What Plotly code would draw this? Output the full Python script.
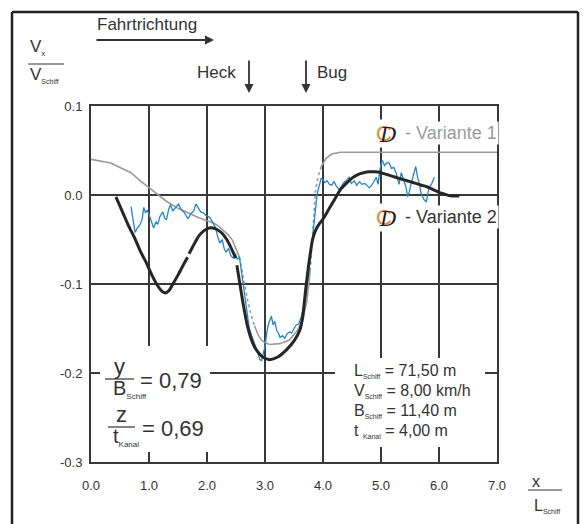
import plotly.graph_objects as go

# ---------------- data ----------------
# Variante 1 (gray, computed) - segments: solid / dotted
v1_a_x = [0.0, 0.2, 0.34, 0.5, 0.69, 0.85, 1.0, 1.15, 1.3, 1.5, 1.7, 1.84, 2.0, 2.1, 2.2, 2.29, 2.37, 2.44, 2.5, 2.56]
v1_a_y = [0.040, 0.038, 0.036, 0.031, 0.025, 0.016, 0.008, 0.000, -0.007, -0.015, -0.021, -0.025, -0.029, -0.031, -0.035, -0.040, -0.045, -0.051, -0.060, -0.070]
v1_b_x = [2.56, 2.60, 2.65, 2.70, 2.76, 2.82]
v1_b_y = [-0.070, -0.085, -0.100, -0.118, -0.135, -0.147]
v1_c_x = [2.82, 2.88, 2.94, 3.0, 3.08, 3.25, 3.42, 3.56, 3.65, 3.72, 3.78]
v1_c_y = [-0.147, -0.157, -0.163, -0.166, -0.168, -0.167, -0.163, -0.152, -0.140, -0.120, -0.085]
v1_d_x = [3.78, 3.82, 3.87, 3.92, 3.97]
v1_d_y = [-0.085, -0.045, 0.005, 0.022, 0.032]
v1_e_x = [3.97, 4.05, 4.15, 4.3, 5.0, 6.0, 7.0]
v1_e_y = [0.032, 0.041, 0.046, 0.048, 0.048, 0.048, 0.048]

# Messung (blue)
meas_x = [0.69, 0.72, 0.76, 0.80, 0.84, 0.88, 0.91, 0.94, 0.97, 1.00, 1.04, 1.08, 1.12, 1.15, 1.19, 1.24, 1.27,
          1.30, 1.34, 1.37, 1.41, 1.46, 1.51, 1.55, 1.60, 1.64, 1.67, 1.72, 1.77, 1.81, 1.84, 1.89, 1.94, 1.98,
          2.02, 2.06, 2.10, 2.15, 2.18, 2.22, 2.26, 2.30, 2.33, 2.37, 2.41, 2.45, 2.49, 2.52, 2.56, 2.59, 2.62,
          2.66, 2.70, 2.73, 2.77, 2.81, 2.85, 2.88, 2.91, 2.94, 2.97, 3.00, 3.03, 3.06, 3.09, 3.11, 3.14, 3.17,
          3.20, 3.23, 3.26, 3.30, 3.34, 3.38, 3.42, 3.46, 3.50, 3.54, 3.58, 3.62, 3.65, 3.68, 3.71, 3.73, 3.76,
          3.78, 3.80, 3.83, 3.86, 3.89, 3.91, 3.94, 3.97, 4.00, 4.03, 4.07, 4.11, 4.15, 4.19, 4.23, 4.28, 4.32,
          4.36, 4.41, 4.45, 4.49, 4.54, 4.58, 4.63, 4.67, 4.72, 4.77, 4.80, 4.84, 4.88, 4.92, 4.95, 4.98, 5.02,
          5.06, 5.10, 5.14, 5.18, 5.22, 5.26, 5.29, 5.31, 5.35, 5.39, 5.43, 5.46, 5.49, 5.52, 5.56, 5.60, 5.63,
          5.66, 5.69, 5.74, 5.78, 5.80, 5.83, 5.87, 5.92]
meas_y = [-0.013, -0.028, -0.042, -0.037, -0.034, -0.028, -0.014, -0.020, -0.017, -0.022, -0.030, -0.037, -0.030,
          -0.033, -0.024, -0.019, -0.026, -0.028, -0.016, -0.011, -0.018, -0.014, -0.010, -0.016, -0.019, -0.023,
          -0.027, -0.021, -0.018, -0.010, -0.013, -0.019, -0.020, -0.023, -0.024, -0.026, -0.031, -0.037, -0.046,
          -0.054, -0.050, -0.061, -0.064, -0.060, -0.068, -0.071, -0.066, -0.072, -0.070, -0.085, -0.099, -0.118,
          -0.138, -0.150, -0.158, -0.165, -0.172, -0.178, -0.185, -0.186, -0.178, -0.170, -0.155, -0.145, -0.140,
          -0.136, -0.146, -0.142, -0.152, -0.155, -0.160, -0.158, -0.161, -0.156, -0.154, -0.155, -0.150, -0.146,
          -0.145, -0.138, -0.130, -0.122, -0.112, -0.099, -0.085, -0.072, -0.060, -0.040, -0.020, -0.004, 0.004,
          0.012, 0.019, 0.017, 0.014, 0.016, 0.012, 0.011, 0.015, 0.010, 0.006, 0.010, 0.014, 0.017, 0.020, 0.013,
          0.016, 0.011, 0.015, 0.012, 0.013, 0.010, 0.008, 0.011, 0.015, 0.020, 0.012, 0.028, 0.039, 0.033, 0.036,
          0.036, 0.030, 0.031, 0.025, 0.018, 0.012, 0.025, 0.016, 0.009, -0.002, 0.004, 0.013, 0.022, 0.032, 0.020,
          0.013, 0.002, -0.005, -0.008, -0.002, 0.009, 0.012, 0.020]

# Variante 2 (black, computed); None = break in line
v2_x = [0.43, 0.55, 0.65, 0.75, 0.85, 0.96, 1.05, 1.15, 1.22, 1.28, 1.35, 1.42, 1.50, 1.58, 1.665, None,
        1.69, 1.78, 1.86, 1.95, 2.04, 2.10, 2.18, 2.26, 2.34, 2.42, 2.495, None,
        2.515, 2.58, 2.62, 2.70, 2.78, 2.85, 2.96, 3.08, 3.22, 3.37, 3.51, 3.60, 3.65, 3.70, 3.75, 3.78,
        3.82, 3.87, 3.93, 4.00, 4.10, 4.20, 4.30, 4.40, 4.50, 4.60, 4.70, 4.80, 4.90, 5.00, 5.10, 5.20,
        5.30, 5.40, 5.50, 5.60, 5.70, 5.80, 5.90, 6.00, 6.10, 6.20, 6.30, 6.35]
v2_y = [-0.002, -0.020, -0.035, -0.048, -0.063, -0.077, -0.090, -0.102, -0.108, -0.110, -0.107, -0.099, -0.090,
        -0.080, -0.070, None,
        -0.066, -0.055, -0.046, -0.040, -0.037, -0.037, -0.039, -0.043, -0.050, -0.060, -0.071, None,
        -0.079, -0.105, -0.121, -0.148, -0.165, -0.174, -0.182, -0.185, -0.182, -0.174, -0.163, -0.152, -0.137,
        -0.107, -0.080, -0.066, -0.050, -0.040, -0.033, -0.027, -0.016, -0.005, 0.006, 0.013, 0.019, 0.023, 0.025,
        0.026, 0.026, 0.025, 0.023, 0.021, 0.019, 0.017, 0.015, 0.013, 0.011, 0.009, 0.006, 0.003, 0.001, -0.001,
        -0.001, -0.001]

x_ticks = [0, 1, 2, 3, 4, 5, 6, 7]
x_ticktext = ["0.0", "1.0", "2.0", "3.0", "4.0", "5.0", "6.0", "7.0"]
y_ticks = [0.1, 0.0, -0.1, -0.2, -0.3]
y_ticktext = ["0.1", "0.0", "-0.1", "-0.2", "-0.3"]

# ---------------- figure ----------------
W, H = 586, 524
L, R, T, B = 91, 497, 106, 462
FONT = "Liberation Sans, Arial, sans-serif"
GRAY = "#9a9a9a"
BLUE = "#2386c8"
BLACK = "#262626"
GRID = "#383838"


def px(x):
    return (x - L) / (R - L)


def py(y):
    return (B - y) / (B - T)


fig = go.Figure()
for xs, ys, dash in [(v1_a_x, v1_a_y, "solid"), (v1_b_x, v1_b_y, "dot"), (v1_c_x, v1_c_y, "solid"),
                     (v1_d_x, v1_d_y, "dot"), (v1_e_x, v1_e_y, "solid")]:
    fig.add_trace(go.Scatter(x=xs, y=ys, mode="lines", line=dict(color=GRAY, width=1.6, dash=dash),
                             hoverinfo="skip"))
fig.add_trace(go.Scatter(x=meas_x, y=meas_y, mode="lines", line=dict(color=BLUE, width=1.3), hoverinfo="skip"))
fig.add_trace(go.Scatter(x=v2_x, y=v2_y, mode="lines", line=dict(color=BLACK, width=3, shape="spline",
                                                                   smoothing=0.6),
                         connectgaps=False, hoverinfo="skip"))

shapes = []
# white boxes interrupting the grid under the text blocks
shapes.append(dict(type="rect", xref="paper", yref="paper", x0=px(100), x1=px(210), y0=py(452), y1=py(346),
                   fillcolor="white", line=dict(width=0), layer="above"))
shapes.append(dict(type="rect", xref="paper", yref="paper", x0=px(335), x1=px(485), y0=py(447), y1=py(358),
                   fillcolor="white", line=dict(width=0), layer="above"))
# outer frame
shapes.append(dict(type="line", xref="paper", yref="paper", x0=px(12), x1=px(12), y0=py(12), y1=py(530),
                   line=dict(color="#222", width=2.5)))
shapes.append(dict(type="line", xref="paper", yref="paper", x0=px(12), x1=px(578), y0=py(12), y1=py(12),
                   line=dict(color="#222", width=2.5)))
shapes.append(dict(type="line", xref="paper", yref="paper", x0=px(578), x1=px(578), y0=py(12), y1=py(530),
                   line=dict(color="#222", width=2.5)))
# fraction bars
for x0, x1, yy in [(28, 64, 64), (105, 134, 379), (108, 135, 427), (528, 562, 490)]:
    shapes.append(dict(type="line", xref="paper", yref="paper", x0=px(x0), x1=px(x1), y0=py(yy), y1=py(yy),
                       line=dict(color="#333", width=1.2)))

ann = []


def text(x, y, s, size, color="#333", xanchor="center", yanchor="middle", family=FONT, bg=None):
    d = dict(xref="paper", yref="paper", x=px(x), y=py(y), text=s, showarrow=False, xanchor=xanchor,
             yanchor=yanchor, font=dict(family=family, size=size, color=color))
    if bg:
        d["bgcolor"] = bg
    ann.append(d)


def sub(s, size):
    return "<sub><span style='font-size:%dpx'>%s</span></sub>" % (size, s)


text(95, 24, "Fahrtrichtung", 17, xanchor="left")
ann.append(dict(xref="paper", yref="paper", x=px(214), y=py(40), ax=-119, ay=0, showarrow=True,
                arrowhead=2, arrowsize=1.0, arrowwidth=1.8, arrowcolor="#333", text=""))
text(28, 48, "V" + sub("x", 8), 17, xanchor="left")
text(28, 75, "V" + sub("Schiff", 7), 17, xanchor="left")
text(238, 72, "Heck", 17, xanchor="right")
ann.append(dict(xref="paper", yref="paper", x=px(249), y=py(93), ax=0, ay=-34, showarrow=True,
                arrowhead=2, arrowsize=1.0, arrowwidth=1.8, arrowcolor="#333", text=""))
text(315, 72, "Bug", 17, xanchor="left")
ann.append(dict(xref="paper", yref="paper", x=px(306), y=py(93), ax=0, ay=-34, showarrow=True,
                arrowhead=2, arrowsize=1.0, arrowwidth=1.8, arrowcolor="#333", text=""))

# legend entries
for yy, label, col in [(133, " - Variante 1", "#9a9a9a"), (217, " - Variante 2", "#333")]:
    text(398, yy, label, 18, color=col, xanchor="left", bg="white")
    text(384, yy, "C", 22, color="#e8873a", bg="white")
    text(388, yy + 2, "<i>D</i>", 21, color="#222", family="DejaVu Serif, serif")

# left text block
text(119, 366, "y", 22)
text(111, 389, "B" + sub("Schiff", 8), 20, xanchor="left")
text(138, 380, "= 0,79", 22, xanchor="left")
text(121, 414, "z", 22)
text(111, 437, "t" + sub("Kanal", 8), 20, xanchor="left")
text(140, 428, "= 0,69", 22, xanchor="left")

# right text block
rows = [("L", "Schiff", "= 71,50 m", 371), ("V", "Schiff", "= 8,00 km/h", 391),
        ("B", "Schiff", "= 11,40 m", 411), ("t ", "Kanal", "= 4,00 m", 431)]
for a, s, rest, yy in rows:
    text(352, yy, a + sub(s, 7) + " " + rest, 16, xanchor="left")

# x axis title
text(536, 481, "x", 16)
text(532, 506, "L" + sub("Schiff", 7), 16, xanchor="left")

fig.update_layout(
    width=W, height=H, margin=dict(l=L, r=W - R, t=T, b=H - B), autosize=False,
    paper_bgcolor="white", plot_bgcolor="white", showlegend=False,
    shapes=shapes, annotations=ann,
    font=dict(family=FONT, color="#333"),
    xaxis=dict(range=[0, 7], tickvals=x_ticks, ticktext=x_ticktext, showgrid=True, gridcolor=GRID,
               gridwidth=1.5, showline=True, mirror=True, linecolor=GRID, linewidth=2, zeroline=False,
               ticks="", tickfont=dict(size=13, color="#333"), ticklabelstandoff=10, fixedrange=True),
    yaxis=dict(range=[-0.3, 0.1], tickvals=y_ticks, ticktext=y_ticktext, showgrid=True, gridcolor=GRID,
               gridwidth=1.5, showline=True, mirror=True, linecolor=GRID, linewidth=2, zeroline=False,
               ticks="", tickfont=dict(size=13, color="#333"), ticklabelstandoff=4, fixedrange=True),
)

fig.write_html("out.html", config={"displayModeBar": False},
               post_script="document.body.style.margin='0';document.body.style.overflow='hidden';")
